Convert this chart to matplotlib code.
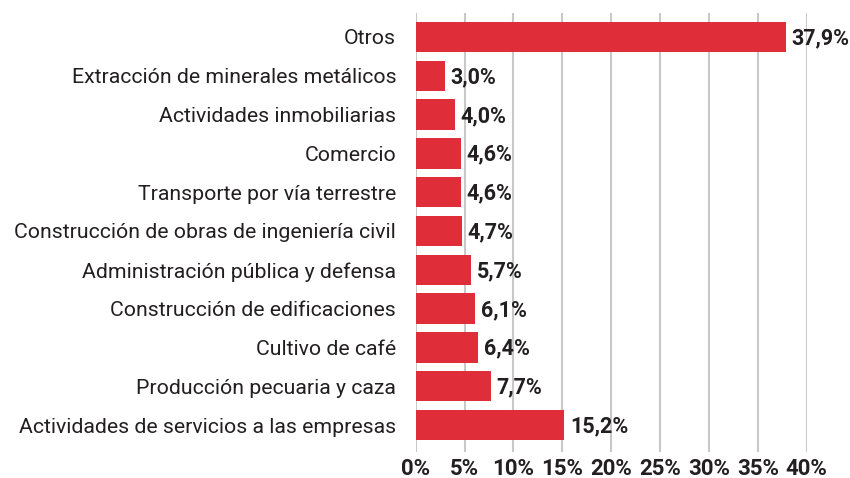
import matplotlib.pyplot as plt
import numpy as np

plt.rcParams['font.family'] = ['Roboto', 'DejaVu Sans']

# Datos (porcentaje de participación por sector)
sectores = [
    'Otros',
    'Extracción de minerales metálicos',
    'Actividades inmobiliarias',
    'Comercio',
    'Transporte por vía terrestre',
    'Construcción de obras de ingeniería civil',
    'Administración pública y defensa',
    'Construcción de edificaciones',
    'Cultivo de café',
    'Producción pecuaria y caza',
    'Actividades de servicios a las empresas',
]
valores = [37.9, 3.0, 4.0, 4.6, 4.6, 4.7, 5.7, 6.1, 6.4, 7.7, 15.2]
etiquetas = ['37,9%', '3,0%', '4,0%', '4,6%', '4,6%', '4,7%',
             '5,7%', '6,1%', '6,4%', '7,7%', '15,2%']
ticks_x = [0, 5, 10, 15, 20, 25, 30, 35, 40]

rojo = '#E02D3A'
texto = '#231F20'

fig = plt.figure(figsize=(8.5, 4.78), dpi=100)
ax = fig.add_axes([0.489, 0.054, 0.46, 0.919])

y = np.arange(len(sectores))
ax.barh(y, valores, height=0.78, color=rojo, zorder=3)

for yi, v, lab in zip(y, valores, etiquetas):
    ax.annotate(lab, (v, yi), xytext=(4, -1), textcoords='offset points',
                va='center', ha='left', fontsize=15.5, fontweight='bold',
                color=texto, zorder=4)

ax.set_xlim(0, 40)
ax.set_ylim(10.7, -0.62)
ax.set_xticks(ticks_x)
ax.set_xticklabels([f'{t}%' for t in ticks_x], fontsize=16,
                   fontweight='bold', color=texto)
ax.set_yticks(y)
ax.set_yticklabels(sectores, fontsize=15.3, color=texto)
ax.tick_params(axis='y', length=0, pad=14)
ax.tick_params(axis='x', length=0, pad=4)

ax.grid(axis='x', color='#C8C8C8', linewidth=1.5, zorder=0)
for s in ax.spines.values():
    s.set_visible(False)

fig.savefig('out.png', dpi=100)
